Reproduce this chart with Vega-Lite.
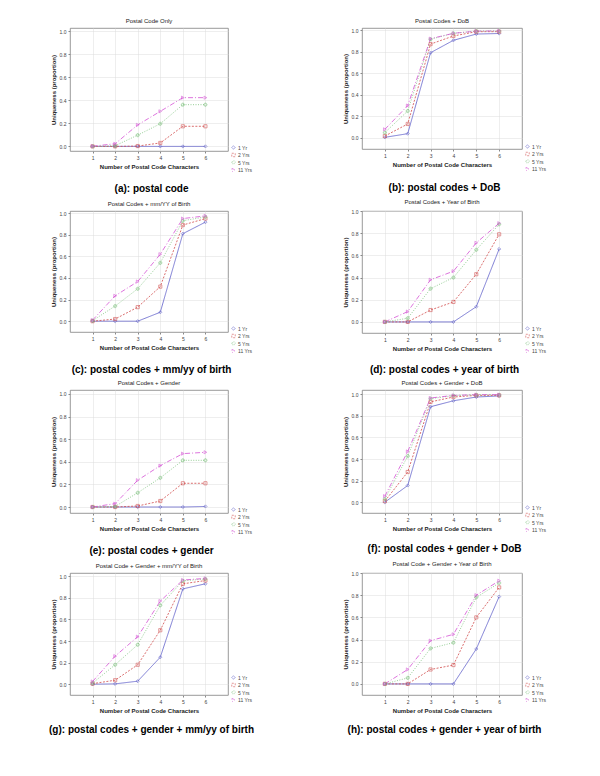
{
"$schema":"https://vega.github.io/schema/vega-lite/v6.json",
"background":"white",
"padding":{"left":49,"top":17,"right":0,"bottom":0},
"config":{
 "font":"Liberation Sans",
 "view":{"stroke":"#808080","strokeWidth":0.8},
 "axis":{"labelFontSize":5,"titleFontSize":6,"titleFontWeight":"bold","labelColor":"#444","titleColor":"#222","gridColor":"#dddddd","gridWidth":0.5,"domain":false,"tickSize":2,"tickColor":"#888","labelPadding":2,"titlePadding":3},
 "legend":{"labelFontSize":5,"labelColor":"#444","symbolSize":12,"symbolStrokeWidth":0.8,"rowPadding":0.5,"labelOffset":2,"padding":0},
 "title":{"fontSize":6,"fontWeight":"normal","color":"#222","offset":4}
},
"datasets":{"d":[
{"p":"a","s":"1 Yr","x":1,"y":0},{"p":"a","s":"1 Yr","x":2,"y":0},{"p":"a","s":"1 Yr","x":3,"y":0},{"p":"a","s":"1 Yr","x":4,"y":0},{"p":"a","s":"1 Yr","x":5,"y":0},{"p":"a","s":"1 Yr","x":6,"y":0},
{"p":"a","s":"2 Yrs","x":1,"y":0},{"p":"a","s":"2 Yrs","x":2,"y":0},{"p":"a","s":"2 Yrs","x":3,"y":0.003},{"p":"a","s":"2 Yrs","x":4,"y":0.03},{"p":"a","s":"2 Yrs","x":5,"y":0.175},{"p":"a","s":"2 Yrs","x":6,"y":0.175},
{"p":"a","s":"5 Yrs","x":1,"y":0},{"p":"a","s":"5 Yrs","x":2,"y":0.006},{"p":"a","s":"5 Yrs","x":3,"y":0.098},{"p":"a","s":"5 Yrs","x":4,"y":0.197},{"p":"a","s":"5 Yrs","x":5,"y":0.363},{"p":"a","s":"5 Yrs","x":6,"y":0.363},
{"p":"a","s":"11 Yrs","x":1,"y":0.002},{"p":"a","s":"11 Yrs","x":2,"y":0.023},{"p":"a","s":"11 Yrs","x":3,"y":0.187},{"p":"a","s":"11 Yrs","x":4,"y":0.305},{"p":"a","s":"11 Yrs","x":5,"y":0.424},{"p":"a","s":"11 Yrs","x":6,"y":0.424},
{"p":"b","s":"1 Yr","x":1,"y":0.006},{"p":"b","s":"1 Yr","x":2,"y":0.04},{"p":"b","s":"1 Yr","x":3,"y":0.79},{"p":"b","s":"1 Yr","x":4,"y":0.905},{"p":"b","s":"1 Yr","x":5,"y":0.963},{"p":"b","s":"1 Yr","x":6,"y":0.968},
{"p":"b","s":"2 Yrs","x":1,"y":0.018},{"p":"b","s":"2 Yrs","x":2,"y":0.13},{"p":"b","s":"2 Yrs","x":3,"y":0.87},{"p":"b","s":"2 Yrs","x":4,"y":0.945},{"p":"b","s":"2 Yrs","x":5,"y":0.985},{"p":"b","s":"2 Yrs","x":6,"y":0.985},
{"p":"b","s":"5 Yrs","x":1,"y":0.05},{"p":"b","s":"5 Yrs","x":2,"y":0.25},{"p":"b","s":"5 Yrs","x":3,"y":0.915},{"p":"b","s":"5 Yrs","x":4,"y":0.97},{"p":"b","s":"5 Yrs","x":5,"y":0.99},{"p":"b","s":"5 Yrs","x":6,"y":0.99},
{"p":"b","s":"11 Yrs","x":1,"y":0.08},{"p":"b","s":"11 Yrs","x":2,"y":0.3},{"p":"b","s":"11 Yrs","x":3,"y":0.92},{"p":"b","s":"11 Yrs","x":4,"y":0.97},{"p":"b","s":"11 Yrs","x":5,"y":0.99},{"p":"b","s":"11 Yrs","x":6,"y":0.992},
{"p":"c","s":"1 Yr","x":1,"y":0},{"p":"c","s":"1 Yr","x":2,"y":0},{"p":"c","s":"1 Yr","x":3,"y":0},{"p":"c","s":"1 Yr","x":4,"y":0.083},{"p":"c","s":"1 Yr","x":5,"y":0.81},{"p":"c","s":"1 Yr","x":6,"y":0.917},
{"p":"c","s":"2 Yrs","x":1,"y":0},{"p":"c","s":"2 Yrs","x":2,"y":0.02},{"p":"c","s":"2 Yrs","x":3,"y":0.13},{"p":"c","s":"2 Yrs","x":4,"y":0.32},{"p":"c","s":"2 Yrs","x":5,"y":0.89},{"p":"c","s":"2 Yrs","x":6,"y":0.95},
{"p":"c","s":"5 Yrs","x":1,"y":0.005},{"p":"c","s":"5 Yrs","x":2,"y":0.14},{"p":"c","s":"5 Yrs","x":3,"y":0.3},{"p":"c","s":"5 Yrs","x":4,"y":0.54},{"p":"c","s":"5 Yrs","x":5,"y":0.93},{"p":"c","s":"5 Yrs","x":6,"y":0.965},
{"p":"c","s":"11 Yrs","x":1,"y":0.01},{"p":"c","s":"11 Yrs","x":2,"y":0.235},{"p":"c","s":"11 Yrs","x":3,"y":0.367},{"p":"c","s":"11 Yrs","x":4,"y":0.62},{"p":"c","s":"11 Yrs","x":5,"y":0.95},{"p":"c","s":"11 Yrs","x":6,"y":0.975},
{"p":"d","s":"1 Yr","x":1,"y":0},{"p":"d","s":"1 Yr","x":2,"y":0},{"p":"d","s":"1 Yr","x":3,"y":0},{"p":"d","s":"1 Yr","x":4,"y":0},{"p":"d","s":"1 Yr","x":5,"y":0.137},{"p":"d","s":"1 Yr","x":6,"y":0.657},
{"p":"d","s":"2 Yrs","x":1,"y":0},{"p":"d","s":"2 Yrs","x":2,"y":0},{"p":"d","s":"2 Yrs","x":3,"y":0.107},{"p":"d","s":"2 Yrs","x":4,"y":0.18},{"p":"d","s":"2 Yrs","x":5,"y":0.43},{"p":"d","s":"2 Yrs","x":6,"y":0.79},
{"p":"d","s":"5 Yrs","x":1,"y":0},{"p":"d","s":"5 Yrs","x":2,"y":0.033},{"p":"d","s":"5 Yrs","x":3,"y":0.3},{"p":"d","s":"5 Yrs","x":4,"y":0.4},{"p":"d","s":"5 Yrs","x":5,"y":0.65},{"p":"d","s":"5 Yrs","x":6,"y":0.88},
{"p":"d","s":"11 Yrs","x":1,"y":0},{"p":"d","s":"11 Yrs","x":2,"y":0.093},{"p":"d","s":"11 Yrs","x":3,"y":0.38},{"p":"d","s":"11 Yrs","x":4,"y":0.457},{"p":"d","s":"11 Yrs","x":5,"y":0.713},{"p":"d","s":"11 Yrs","x":6,"y":0.89},
{"p":"e","s":"1 Yr","x":1,"y":0},{"p":"e","s":"1 Yr","x":2,"y":0},{"p":"e","s":"1 Yr","x":3,"y":0},{"p":"e","s":"1 Yr","x":4,"y":0},{"p":"e","s":"1 Yr","x":5,"y":0},{"p":"e","s":"1 Yr","x":6,"y":0.005},
{"p":"e","s":"2 Yrs","x":1,"y":0},{"p":"e","s":"2 Yrs","x":2,"y":0},{"p":"e","s":"2 Yrs","x":3,"y":0.009},{"p":"e","s":"2 Yrs","x":4,"y":0.053},{"p":"e","s":"2 Yrs","x":5,"y":0.21},{"p":"e","s":"2 Yrs","x":6,"y":0.21},
{"p":"e","s":"5 Yrs","x":1,"y":0},{"p":"e","s":"5 Yrs","x":2,"y":0.005},{"p":"e","s":"5 Yrs","x":3,"y":0.126},{"p":"e","s":"5 Yrs","x":4,"y":0.258},{"p":"e","s":"5 Yrs","x":5,"y":0.413},{"p":"e","s":"5 Yrs","x":6,"y":0.413},
{"p":"e","s":"11 Yrs","x":1,"y":0},{"p":"e","s":"11 Yrs","x":2,"y":0.03},{"p":"e","s":"11 Yrs","x":3,"y":0.237},{"p":"e","s":"11 Yrs","x":4,"y":0.366},{"p":"e","s":"11 Yrs","x":5,"y":0.472},{"p":"e","s":"11 Yrs","x":6,"y":0.484},
{"p":"f","s":"1 Yr","x":1,"y":0},{"p":"f","s":"1 Yr","x":2,"y":0.155},{"p":"f","s":"1 Yr","x":3,"y":0.885},{"p":"f","s":"1 Yr","x":4,"y":0.94},{"p":"f","s":"1 Yr","x":5,"y":0.975},{"p":"f","s":"1 Yr","x":6,"y":0.985},
{"p":"f","s":"2 Yrs","x":1,"y":0.01},{"p":"f","s":"2 Yrs","x":2,"y":0.28},{"p":"f","s":"2 Yrs","x":3,"y":0.93},{"p":"f","s":"2 Yrs","x":4,"y":0.975},{"p":"f","s":"2 Yrs","x":5,"y":0.99},{"p":"f","s":"2 Yrs","x":6,"y":0.99},
{"p":"f","s":"5 Yrs","x":1,"y":0.03},{"p":"f","s":"5 Yrs","x":2,"y":0.427},{"p":"f","s":"5 Yrs","x":3,"y":0.96},{"p":"f","s":"5 Yrs","x":4,"y":0.988},{"p":"f","s":"5 Yrs","x":5,"y":0.995},{"p":"f","s":"5 Yrs","x":6,"y":0.995},
{"p":"f","s":"11 Yrs","x":1,"y":0.056},{"p":"f","s":"11 Yrs","x":2,"y":0.47},{"p":"f","s":"11 Yrs","x":3,"y":0.966},{"p":"f","s":"11 Yrs","x":4,"y":0.99},{"p":"f","s":"11 Yrs","x":5,"y":0.997},{"p":"f","s":"11 Yrs","x":6,"y":0.997},
{"p":"g","s":"1 Yr","x":1,"y":0},{"p":"g","s":"1 Yr","x":2,"y":0.003},{"p":"g","s":"1 Yr","x":3,"y":0.028},{"p":"g","s":"1 Yr","x":4,"y":0.25},{"p":"g","s":"1 Yr","x":5,"y":0.883},{"p":"g","s":"1 Yr","x":6,"y":0.93},
{"p":"g","s":"2 Yrs","x":1,"y":0.005},{"p":"g","s":"2 Yrs","x":2,"y":0.037},{"p":"g","s":"2 Yrs","x":3,"y":0.18},{"p":"g","s":"2 Yrs","x":4,"y":0.5},{"p":"g","s":"2 Yrs","x":5,"y":0.93},{"p":"g","s":"2 Yrs","x":6,"y":0.96},
{"p":"g","s":"5 Yrs","x":1,"y":0.01},{"p":"g","s":"5 Yrs","x":2,"y":0.18},{"p":"g","s":"5 Yrs","x":3,"y":0.366},{"p":"g","s":"5 Yrs","x":4,"y":0.73},{"p":"g","s":"5 Yrs","x":5,"y":0.957},{"p":"g","s":"5 Yrs","x":6,"y":0.975},
{"p":"g","s":"11 Yrs","x":1,"y":0.025},{"p":"g","s":"11 Yrs","x":2,"y":0.26},{"p":"g","s":"11 Yrs","x":3,"y":0.44},{"p":"g","s":"11 Yrs","x":4,"y":0.77},{"p":"g","s":"11 Yrs","x":5,"y":0.965},{"p":"g","s":"11 Yrs","x":6,"y":0.98},
{"p":"h","s":"1 Yr","x":1,"y":0},{"p":"h","s":"1 Yr","x":2,"y":0},{"p":"h","s":"1 Yr","x":3,"y":0},{"p":"h","s":"1 Yr","x":4,"y":0},{"p":"h","s":"1 Yr","x":5,"y":0.315},{"p":"h","s":"1 Yr","x":6,"y":0.787},
{"p":"h","s":"2 Yrs","x":1,"y":0},{"p":"h","s":"2 Yrs","x":2,"y":0},{"p":"h","s":"2 Yrs","x":3,"y":0.13},{"p":"h","s":"2 Yrs","x":4,"y":0.17},{"p":"h","s":"2 Yrs","x":5,"y":0.6},{"p":"h","s":"2 Yrs","x":6,"y":0.87},
{"p":"h","s":"5 Yrs","x":1,"y":0},{"p":"h","s":"5 Yrs","x":2,"y":0.054},{"p":"h","s":"5 Yrs","x":3,"y":0.32},{"p":"h","s":"5 Yrs","x":4,"y":0.372},{"p":"h","s":"5 Yrs","x":5,"y":0.78},{"p":"h","s":"5 Yrs","x":6,"y":0.91},
{"p":"h","s":"11 Yrs","x":1,"y":0},{"p":"h","s":"11 Yrs","x":2,"y":0.13},{"p":"h","s":"11 Yrs","x":3,"y":0.39},{"p":"h","s":"11 Yrs","x":4,"y":0.447},{"p":"h","s":"11 Yrs","x":5,"y":0.8},{"p":"h","s":"11 Yrs","x":6,"y":0.93}
]},
"columns":2,
"spacing":{"row":3,"column":86},
"resolve":{"scale":{"y":"independent"},"legend":{"color":"independent","shape":"independent","strokeDash":"independent"}},
"concat":[
{"title":{"text":"(a): postal code","orient":"bottom","anchor":"middle","fontSize":10,"fontWeight":"bold","color":"#000","offset":10},
 "resolve":{"scale":{"y":"independent"},"legend":{"color":"independent","shape":"independent","strokeDash":"independent"}},
 "hconcat":[{"title":"Postal Code Only","width":158,"height":123,"data":{"name":"d"},"transform":[{"filter":"datum.p=='a'"}],
 "encoding":{"x":{"field":"x","type":"quantitative","scale":{"domain":[0,7],"nice":false},"axis":{"values":[1,2,3,4,5,6],"title":"Number of Postal Code Characters"}},
  "y":{"field":"y","type":"quantitative","scale":{"domain":[-0.04,1.03],"nice":false,"zero":false},"axis":{"values":[0,0.2,0.4,0.6,0.8,1],"format":".1f","title":"Uniqueness (proportion)"}},
  "color":{"field":"s","type":"nominal","scale":{"domain":["1 Yr","2 Yrs","5 Yrs","11 Yrs"],"range":["#5a5ac8","#d04a4a","#7cc27c","#d452d4"]},"legend":{"title":null,"orient":"none","legendX":161,"legendY":117}}},
 "layer":[{"mark":{"type":"line","strokeWidth":0.8},"encoding":{"strokeDash":{"field":"s","type":"nominal","scale":{"domain":["1 Yr","2 Yrs","5 Yrs","11 Yrs"],"range":[[1,0],[2,1.5],[1,1.5],[5,2,1,2]]},"legend":{"title":null,"orient":"none","legendX":161,"legendY":117}}}},
  {"mark":{"type":"point","size":10,"strokeWidth":0.8,"filled":false},"encoding":{"shape":{"field":"s","type":"nominal","scale":{"domain":["1 Yr","2 Yrs","5 Yrs","11 Yrs"],"range":["diamond","square","cross","triangle-right"]},"legend":{"title":null,"orient":"none","legendX":161,"legendY":117}}}}]}]},
{"title":{"text":"(b): postal codes + DoB","orient":"bottom","anchor":"middle","fontSize":10,"fontWeight":"bold","color":"#000","offset":10},
 "resolve":{"scale":{"y":"independent"},"legend":{"color":"independent","shape":"independent","strokeDash":"independent"}},
 "hconcat":[{"title":"Postal Codes + DoB","width":160,"height":121,"data":{"name":"d"},"transform":[{"filter":"datum.p=='b'"}],
 "encoding":{"x":{"field":"x","type":"quantitative","scale":{"domain":[0,7],"nice":false},"axis":{"values":[1,2,3,4,5,6],"title":"Number of Postal Code Characters"}},
  "y":{"field":"y","type":"quantitative","scale":{"domain":[-0.102,1.019],"nice":false,"zero":false},"axis":{"values":[0,0.2,0.4,0.6,0.8,1],"format":".1f","title":"Uniqueness (proportion)"}},
  "color":{"field":"s","type":"nominal","scale":{"domain":["1 Yr","2 Yrs","5 Yrs","11 Yrs"],"range":["#5a5ac8","#d04a4a","#7cc27c","#d452d4"]},"legend":{"title":null,"orient":"none","legendX":163,"legendY":116}}},
 "layer":[{"mark":{"type":"line","strokeWidth":0.8},"encoding":{"strokeDash":{"field":"s","type":"nominal","scale":{"domain":["1 Yr","2 Yrs","5 Yrs","11 Yrs"],"range":[[1,0],[2,1.5],[1,1.5],[5,2,1,2]]},"legend":{"title":null,"orient":"none","legendX":163,"legendY":116}}}},
  {"mark":{"type":"point","size":10,"strokeWidth":0.8,"filled":false},"encoding":{"shape":{"field":"s","type":"nominal","scale":{"domain":["1 Yr","2 Yrs","5 Yrs","11 Yrs"],"range":["diamond","square","cross","triangle-right"]},"legend":{"title":null,"orient":"none","legendX":163,"legendY":116}}}}]}]},
{"title":{"text":"(c): postal codes + mm/yy of birth","orient":"bottom","anchor":"middle","fontSize":10,"fontWeight":"bold","color":"#000","offset":10},
 "resolve":{"scale":{"y":"independent"},"legend":{"color":"independent","shape":"independent","strokeDash":"independent"}},
 "hconcat":[{"title":"Postal Codes + mm/YY of Birth","width":158,"height":121,"data":{"name":"d"},"transform":[{"filter":"datum.p=='c'"}],
 "encoding":{"x":{"field":"x","type":"quantitative","scale":{"domain":[0,7],"nice":false},"axis":{"values":[1,2,3,4,5,6],"title":"Number of Postal Code Characters"}},
  "y":{"field":"y","type":"quantitative","scale":{"domain":[-0.1,1.02],"nice":false,"zero":false},"axis":{"values":[0,0.2,0.4,0.6,0.8,1],"format":".1f","title":"Uniqueness (proportion)"}},
  "color":{"field":"s","type":"nominal","scale":{"domain":["1 Yr","2 Yrs","5 Yrs","11 Yrs"],"range":["#5a5ac8","#d04a4a","#7cc27c","#d452d4"]},"legend":{"title":null,"orient":"none","legendX":161,"legendY":115}}},
 "layer":[{"mark":{"type":"line","strokeWidth":0.8},"encoding":{"strokeDash":{"field":"s","type":"nominal","scale":{"domain":["1 Yr","2 Yrs","5 Yrs","11 Yrs"],"range":[[1,0],[2,1.5],[1,1.5],[5,2,1,2]]},"legend":{"title":null,"orient":"none","legendX":161,"legendY":115}}}},
  {"mark":{"type":"point","size":10,"strokeWidth":0.8,"filled":false},"encoding":{"shape":{"field":"s","type":"nominal","scale":{"domain":["1 Yr","2 Yrs","5 Yrs","11 Yrs"],"range":["diamond","square","cross","triangle-right"]},"legend":{"title":null,"orient":"none","legendX":161,"legendY":115}}}}]}]},
{"title":{"text":"(d): postal codes + year of birth","orient":"bottom","anchor":"middle","fontSize":10,"fontWeight":"bold","color":"#000","offset":10},
 "resolve":{"scale":{"y":"independent"},"legend":{"color":"independent","shape":"independent","strokeDash":"independent"}},
 "hconcat":[{"title":"Postal Codes + Year of Birth","width":160,"height":122,"data":{"name":"d"},"transform":[{"filter":"datum.p=='d'"}],
 "encoding":{"x":{"field":"x","type":"quantitative","scale":{"domain":[0,7],"nice":false},"axis":{"values":[1,2,3,4,5,6],"title":"Number of Postal Code Characters"}},
  "y":{"field":"y","type":"quantitative","scale":{"domain":[-0.1,1.0],"nice":false,"zero":false},"axis":{"values":[0,0.2,0.4,0.6,0.8,1],"format":".1f","title":"Uniqueness (proportion)"}},
  "color":{"field":"s","type":"nominal","scale":{"domain":["1 Yr","2 Yrs","5 Yrs","11 Yrs"],"range":["#5a5ac8","#d04a4a","#7cc27c","#d452d4"]},"legend":{"title":null,"orient":"none","legendX":163,"legendY":115}}},
 "layer":[{"mark":{"type":"line","strokeWidth":0.8},"encoding":{"strokeDash":{"field":"s","type":"nominal","scale":{"domain":["1 Yr","2 Yrs","5 Yrs","11 Yrs"],"range":[[1,0],[2,1.5],[1,1.5],[5,2,1,2]]},"legend":{"title":null,"orient":"none","legendX":163,"legendY":115}}}},
  {"mark":{"type":"point","size":10,"strokeWidth":0.8,"filled":false},"encoding":{"shape":{"field":"s","type":"nominal","scale":{"domain":["1 Yr","2 Yrs","5 Yrs","11 Yrs"],"range":["diamond","square","cross","triangle-right"]},"legend":{"title":null,"orient":"none","legendX":163,"legendY":115}}}}]}]},
{"title":{"text":"(e): postal codes + gender","orient":"bottom","anchor":"middle","fontSize":10,"fontWeight":"bold","color":"#000","offset":10},
 "resolve":{"scale":{"y":"independent"},"legend":{"color":"independent","shape":"independent","strokeDash":"independent"}},
 "hconcat":[{"title":"Postal Codes + Gender","width":158,"height":123,"data":{"name":"d"},"transform":[{"filter":"datum.p=='e'"}],
 "encoding":{"x":{"field":"x","type":"quantitative","scale":{"domain":[0,7],"nice":false},"axis":{"values":[1,2,3,4,5,6],"title":"Number of Postal Code Characters"}},
  "y":{"field":"y","type":"quantitative","scale":{"domain":[-0.053,1.035],"nice":false,"zero":false},"axis":{"values":[0,0.2,0.4,0.6,0.8,1],"format":".1f","title":"Uniqueness (proportion)"}},
  "color":{"field":"s","type":"nominal","scale":{"domain":["1 Yr","2 Yrs","5 Yrs","11 Yrs"],"range":["#5a5ac8","#d04a4a","#7cc27c","#d452d4"]},"legend":{"title":null,"orient":"none","legendX":161,"legendY":117}}},
 "layer":[{"mark":{"type":"line","strokeWidth":0.8},"encoding":{"strokeDash":{"field":"s","type":"nominal","scale":{"domain":["1 Yr","2 Yrs","5 Yrs","11 Yrs"],"range":[[1,0],[2,1.5],[1,1.5],[5,2,1,2]]},"legend":{"title":null,"orient":"none","legendX":161,"legendY":117}}}},
  {"mark":{"type":"point","size":10,"strokeWidth":0.8,"filled":false},"encoding":{"shape":{"field":"s","type":"nominal","scale":{"domain":["1 Yr","2 Yrs","5 Yrs","11 Yrs"],"range":["diamond","square","cross","triangle-right"]},"legend":{"title":null,"orient":"none","legendX":161,"legendY":117}}}}]}]},
{"title":{"text":"(f): postal codes + gender + DoB","orient":"bottom","anchor":"middle","fontSize":10,"fontWeight":"bold","color":"#000","offset":10},
 "resolve":{"scale":{"y":"independent"},"legend":{"color":"independent","shape":"independent","strokeDash":"independent"}},
 "hconcat":[{"title":"Postal Codes + Gender + DoB","width":160,"height":123,"data":{"name":"d"},"transform":[{"filter":"datum.p=='f'"}],
 "encoding":{"x":{"field":"x","type":"quantitative","scale":{"domain":[0,7],"nice":false},"axis":{"values":[1,2,3,4,5,6],"title":"Number of Postal Code Characters"}},
  "y":{"field":"y","type":"quantitative","scale":{"domain":[-0.1,1.04],"nice":false,"zero":false},"axis":{"values":[0,0.2,0.4,0.6,0.8,1],"format":".1f","title":"Uniqueness (proportion)"}},
  "color":{"field":"s","type":"nominal","scale":{"domain":["1 Yr","2 Yrs","5 Yrs","11 Yrs"],"range":["#5a5ac8","#d04a4a","#7cc27c","#d452d4"]},"legend":{"title":null,"orient":"none","legendX":163,"legendY":115}}},
 "layer":[{"mark":{"type":"line","strokeWidth":0.8},"encoding":{"strokeDash":{"field":"s","type":"nominal","scale":{"domain":["1 Yr","2 Yrs","5 Yrs","11 Yrs"],"range":[[1,0],[2,1.5],[1,1.5],[5,2,1,2]]},"legend":{"title":null,"orient":"none","legendX":163,"legendY":115}}}},
  {"mark":{"type":"point","size":10,"strokeWidth":0.8,"filled":false},"encoding":{"shape":{"field":"s","type":"nominal","scale":{"domain":["1 Yr","2 Yrs","5 Yrs","11 Yrs"],"range":["diamond","square","cross","triangle-right"]},"legend":{"title":null,"orient":"none","legendX":163,"legendY":115}}}}]}]},
{"title":{"text":"(g): postal codes + gender + mm/yy of birth","orient":"bottom","anchor":"middle","fontSize":10,"fontWeight":"bold","color":"#000","offset":12},
 "resolve":{"scale":{"y":"independent"},"legend":{"color":"independent","shape":"independent","strokeDash":"independent"}},
 "hconcat":[{"title":"Postal Code + Gender + mm/YY of Birth","width":158,"height":122,"data":{"name":"d"},"transform":[{"filter":"datum.p=='g'"}],
 "encoding":{"x":{"field":"x","type":"quantitative","scale":{"domain":[0,7],"nice":false},"axis":{"values":[1,2,3,4,5,6],"title":"Number of Postal Code Characters"}},
  "y":{"field":"y","type":"quantitative","scale":{"domain":[-0.1,1.03],"nice":false,"zero":false},"axis":{"values":[0,0.2,0.4,0.6,0.8,1],"format":".1f","title":"Uniqueness (proportion)"}},
  "color":{"field":"s","type":"nominal","scale":{"domain":["1 Yr","2 Yrs","5 Yrs","11 Yrs"],"range":["#5a5ac8","#d04a4a","#7cc27c","#d452d4"]},"legend":{"title":null,"orient":"none","legendX":161,"legendY":102}}},
 "layer":[{"mark":{"type":"line","strokeWidth":0.8},"encoding":{"strokeDash":{"field":"s","type":"nominal","scale":{"domain":["1 Yr","2 Yrs","5 Yrs","11 Yrs"],"range":[[1,0],[2,1.5],[1,1.5],[5,2,1,2]]},"legend":{"title":null,"orient":"none","legendX":161,"legendY":102}}}},
  {"mark":{"type":"point","size":10,"strokeWidth":0.8,"filled":false},"encoding":{"shape":{"field":"s","type":"nominal","scale":{"domain":["1 Yr","2 Yrs","5 Yrs","11 Yrs"],"range":["diamond","square","cross","triangle-right"]},"legend":{"title":null,"orient":"none","legendX":161,"legendY":102}}}}]}]},
{"title":{"text":"(h): postal codes + gender + year of birth","orient":"bottom","anchor":"middle","fontSize":10,"fontWeight":"bold","color":"#000","offset":12},
 "resolve":{"scale":{"y":"independent"},"legend":{"color":"independent","shape":"independent","strokeDash":"independent"}},
 "hconcat":[{"title":"Postal Code + Gender + Year of Birth","width":160,"height":122,"data":{"name":"d"},"transform":[{"filter":"datum.p=='h'"}],
 "encoding":{"x":{"field":"x","type":"quantitative","scale":{"domain":[0,7],"nice":false},"axis":{"values":[1,2,3,4,5,6],"title":"Number of Postal Code Characters"}},
  "y":{"field":"y","type":"quantitative","scale":{"domain":[-0.1,1.0],"nice":false,"zero":false},"axis":{"values":[0,0.2,0.4,0.6,0.8,1],"format":".1f","title":"Uniqueness (proportion)"}},
  "color":{"field":"s","type":"nominal","scale":{"domain":["1 Yr","2 Yrs","5 Yrs","11 Yrs"],"range":["#5a5ac8","#d04a4a","#7cc27c","#d452d4"]},"legend":{"title":null,"orient":"none","legendX":163,"legendY":102}}},
 "layer":[{"mark":{"type":"line","strokeWidth":0.8},"encoding":{"strokeDash":{"field":"s","type":"nominal","scale":{"domain":["1 Yr","2 Yrs","5 Yrs","11 Yrs"],"range":[[1,0],[2,1.5],[1,1.5],[5,2,1,2]]},"legend":{"title":null,"orient":"none","legendX":163,"legendY":102}}}},
  {"mark":{"type":"point","size":10,"strokeWidth":0.8,"filled":false},"encoding":{"shape":{"field":"s","type":"nominal","scale":{"domain":["1 Yr","2 Yrs","5 Yrs","11 Yrs"],"range":["diamond","square","cross","triangle-right"]},"legend":{"title":null,"orient":"none","legendX":163,"legendY":102}}}}]}]}
]
}
